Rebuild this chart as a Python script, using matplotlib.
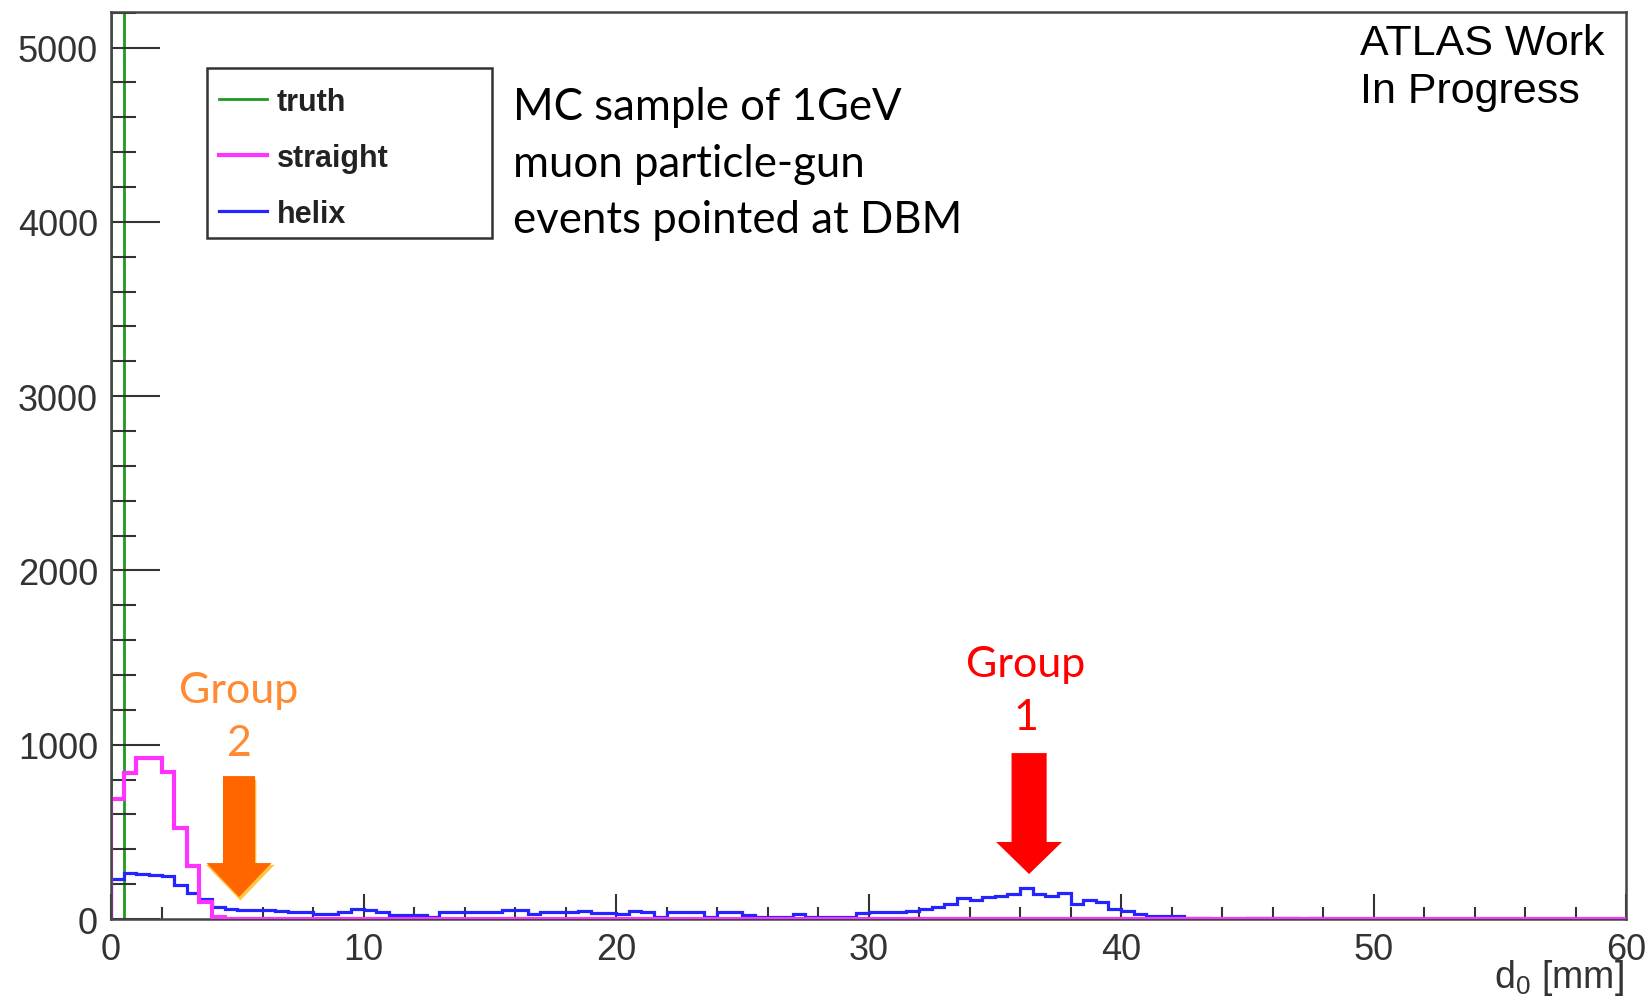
import numpy as np
import matplotlib
matplotlib.use('Agg')
import matplotlib.pyplot as plt
from matplotlib.patches import FancyArrow, Rectangle
from matplotlib.ticker import MultipleLocator

plt.rcParams['font.family'] = ['Liberation Sans', 'DejaVu Sans']
plt.rcParams['mathtext.fontset'] = 'custom'
plt.rcParams['mathtext.rm'] = 'Liberation Sans'

# d0 histograms, 0.5 mm bins over 0-60 mm (one row = 5 mm)
bin_edges = np.arange(0, 60.5, 0.5)

straight = [690, 837, 925, 925, 843, 521, 306, 100, 12, 0,
            0, 0, 0, 0, 0, 0, 0, 0, 0, 0,
            0, 0, 0, 0, 0, 0, 0, 0, 0, 0,
            0, 0, 0, 0, 0, 0, 0, 0, 0, 0,
            0, 0, 0, 0, 0, 0, 0, 0, 0, 0,
            0, 0, 0, 0, 0, 0, 0, 0, 0, 0,
            0, 0, 0, 0, 0, 0, 0, 0, 0, 0,
            0, 0, 0, 0, 0, 0, 0, 0, 0, 0,
            0, 0, 0, 0, 0, 0, 0, 0, 0, 0,
            0, 0, 0, 0, 0, 0, 0, 0, 0, 0,
            0, 0, 0, 0, 0, 0, 0, 0, 0, 0,
            0, 0, 0, 0, 0, 0, 0, 0, 0, 0]

helix = [230, 264, 258, 252, 245, 197, 148, 112, 69, 60,
         52, 50, 50, 45, 38, 38, 30, 27, 38, 58,
         52, 38, 23, 23, 23, 10, 38, 38, 38, 38,
         38, 52, 52, 29, 38, 38, 38, 44, 33, 33,
         29, 48, 42, 13, 42, 42, 42, 13, 38, 38,
         25, 13, 13, 13, 29, 13, 13, 13, 13, 33,
         42, 42, 42, 45, 60, 70, 85, 118, 110, 128,
         130, 144, 176, 144, 130, 152, 86, 110, 100, 57,
         48, 29, 19, 19, 15, 8, 4, 0, 0, 0,
         8, 8, 8, 8, 0, 8, 0, 0, 0, 0,
         0, 0, 0, 0, 0, 0, 0, 0, 0, 0,
         0, 0, 0, 0, 0, 0, 0, 0, 0, 0]

# truth d0 sits in the first bin, far off the scale
truth_edges = [0.0, 0.5]
truth_counts = [10000]

c_truth, c_straight, c_helix = '#1f9a1f', '#ff33ff', '#2424ff'
tick_col = '#333333'

fig = plt.figure(figsize=(16.46, 10.03), dpi=100)
ax = fig.add_axes([0.06744, 0.08275, 0.92041, 0.90429])

h_truth = ax.stairs(truth_counts, truth_edges, color=c_truth, lw=2.0, baseline=0, zorder=1.5)
h_helix = ax.stairs(helix, bin_edges, color=c_helix, lw=2.3, baseline=0, zorder=2)
h_straight = ax.stairs(straight, bin_edges, color=c_straight, lw=3.0, baseline=0, zorder=3)

ax.set_xlim(0, 60)
ax.set_ylim(0, 5204)
ax.xaxis.set_major_locator(MultipleLocator(10))
ax.xaxis.set_minor_locator(MultipleLocator(2))
ax.yaxis.set_major_locator(MultipleLocator(1000))
ax.yaxis.set_minor_locator(MultipleLocator(200))
ax.tick_params(axis='both', which='both', direction='in', color=tick_col,
               labelcolor=tick_col, labelsize=26, pad=9.4, width=1.5)
ax.tick_params(axis='y', which='major', length=35)
ax.tick_params(axis='y', which='minor', length=18)
ax.tick_params(axis='x', which='major', length=18)
ax.tick_params(axis='x', which='minor', length=8.6)
for s in ax.spines.values():
    s.set_linewidth(1.8)
    s.set_color('#444444')
# left frame line stays on top of the histogram edges, bottom one under magenta
ax.spines['left'].set_zorder(4)

ax.text(0.9985, -0.0755, r'd$_\mathregular{0}$ [mm]', transform=ax.transAxes,
        ha='right', va='baseline', fontsize=27, color=tick_col)

# legend: ROOT-style box with roomy right side
leg = ax.legend([h_truth, h_straight, h_helix], ['truth', 'straight', 'helix'],
                loc='upper left', bbox_to_anchor=(0.0713, 0.9176), frameon=False,
                borderpad=0, borderaxespad=0, handlelength=1.57, handletextpad=0.33,
                labelspacing=0.85, prop={'weight': 'bold', 'size': 22})
for t in leg.get_texts():
    t.set_color('#222222')
ax.add_patch(Rectangle((0.0634, 0.7508), 0.1881, 0.1875, transform=ax.transAxes,
                       fill=False, lw=1.8, ec='#333333', zorder=5))

mc_lines = ['MC sample of 1GeV', 'muon particle-gun', 'events pointed at DBM']
for txt, yb in zip(mc_lines, [0.8820, 0.8192, 0.7574]):
    ax.text(0.2653, yb, txt, transform=ax.transAxes, ha='left', va='baseline',
            fontsize=31.5, family='Lato', color='black')

for txt, yb in zip(['ATLAS Work', 'In Progress'], [0.9537, 0.9008]):
    ax.text(0.8244, yb, txt, transform=ax.transAxes, ha='left', va='baseline',
            fontsize=31, color='black')

# group markers
ax.text(5.07, 1245, 'Group', ha='center', va='baseline', fontsize=31,
        family='Lato', color='#ff8a33')
ax.text(5.07, 941, '2', ha='center', va='baseline', fontsize=31,
        family='Lato', color='#ff8a33')
ax.text(36.24, 1394, 'Group', ha='center', va='baseline', fontsize=31,
        family='Lato', color='#ff0000')
ax.text(36.24, 1090, '1', ha='center', va='baseline', fontsize=31,
        family='Lato', color='#ff0000')

ax.add_patch(FancyArrow(5.12, 800, 0, -694, width=1.27, head_width=2.72,
                        head_length=205, length_includes_head=True,
                        color='#ffc640', lw=0, zorder=6))
ax.add_patch(FancyArrow(5.07, 820, 0, -694, width=1.27, head_width=2.57,
                        head_length=195, length_includes_head=True,
                        color='#ff6600', lw=0, zorder=7))
ax.add_patch(FancyArrow(36.36, 952, 0, -694, width=1.39, head_width=2.61,
                        head_length=184, length_includes_head=True,
                        color='#ff0000', lw=0, zorder=7))

fig.savefig('out.png', dpi=100)
